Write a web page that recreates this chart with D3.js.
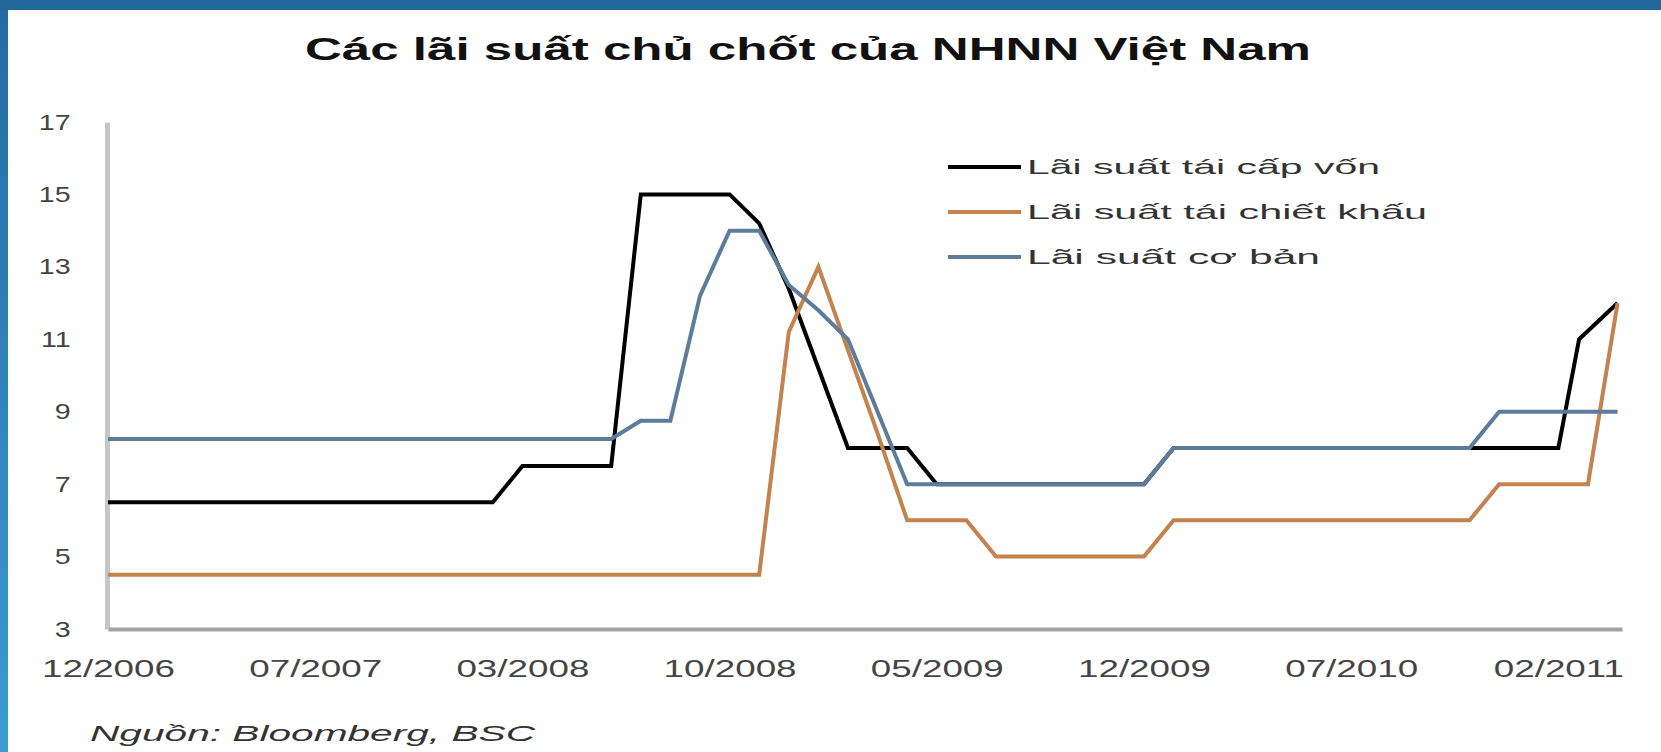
<!DOCTYPE html>
<html>
<head>
    <meta charset="utf-8">
    <title>Lãi suất NHNN</title>
    <script src="https://d3js.org/d3.v7.min.js"></script>
    <style>
        body { margin: 0; background: #fff; }
        text { font-family: "Liberation Sans", Arial, sans-serif; }
    </style>
</head>
<body>
<div id="chart"></div>

<script type="text/javascript">
    // dữ liệu: x là chỉ số thời điểm trên trục phân loại, y là lãi suất (%)
    let xLabels = ["12/2006", "07/2007", "03/2008", "10/2008", "05/2009", "12/2009", "07/2010", "02/2011"];
    let yTicks = [3, 5, 7, 9, 11, 13, 15, 17];
    let seriesNames = ["Lãi suất tái cấp vốn", "Lãi suất tái chiết khấu", "Lãi suất cơ bản"];
    let seriesColors = ["#000000", "#c4824f", "#5d7c9c"];

    let refinance = [[0,6.5],[13,6.5],[14,7.5],[17,7.5],[18,15],[21,15],[22,14.2],[23,12.4],[24,10.2],
                     [25,8],[27,8],[28,7],[35,7],[36,8],[49,8],[49.7,11],[51,12]];
    let discount = [[0,4.5],[22,4.5],[23,11.2],[24,13],[25,10.7],[26,8.4],[27,6],[29,6],[30,5],[35,5],
                    [36,6],[46,6],[47,7],[50,7],[51,12]];
    let baseRate = [[0,8.25],[17,8.25],[18,8.75],[19,8.75],[20,12.2],[21,14],[22,14],[23,12.5],[24,11.8],
                    [25,11],[27,7],[35,7],[36,8],[46,8],[47,9],[51,9]];

    let W = 1661, H = 752;

    let svg = d3.select("#chart")
            .append("svg")
                .attr("width", W)
                .attr("height", H);

    // khung xanh phía trên và bên trái
    let grad = svg.append("defs").append("linearGradient")
        .attr("id", "sideGrad")
        .attr("x1", 0).attr("y1", 0).attr("x2", 0).attr("y2", 1);
    grad.append("stop").attr("offset", "0%").attr("stop-color", "#256a9e");
    grad.append("stop").attr("offset", "100%").attr("stop-color", "#3c9bd0");

    svg.append("rect").attr("x", 0).attr("y", 0).attr("width", 8).attr("height", H)
        .attr("fill", "url(#sideGrad)");
    svg.append("rect").attr("x", 0).attr("y", 0).attr("width", W).attr("height", 10)
        .attr("fill", "#23689b");

    // thang đo
    let xScale = d3.scaleLinear()
                  .domain([0, 51.15])
                  .range([108, 1622]);
    let yScale = d3.scaleLinear()
                  .domain([3, 17])
                  .range([629, 122]);

    // tiêu đề
    svg.append("text")
        .attr("x", 305)
        .attr("y", 60)
        .attr("font-size", 32)
        .attr("font-weight", "bold")
        .attr("fill", "#111")
        .attr("textLength", 1006)
        .attr("lengthAdjust", "spacingAndGlyphs")
        .text("Các lãi suất chủ chốt của NHNN Việt Nam");

    // trục Y
    let yAxis = d3.axisLeft(yScale)
                  .tickValues(yTicks)
                  .tickSize(0)
                  .tickPadding(28)
                  .tickFormat(d3.format("d"));
    let yG = svg.append("g")
       .attr("transform", "translate(107,0)")
       .call(yAxis);
    yG.select(".domain").attr("stroke", "#c6c6c6").attr("stroke-width", 5);
    yG.selectAll("text")
       .attr("font-size", 22)
       .attr("fill", "#444")
       .attr("transform", "scale(1.3,1)");

    // trục X
    let xAxis = d3.axisBottom(xScale)
                  .tickValues(xLabels.map(function(d, i) { return i * 7; }))
                  .tickSize(0)
                  .tickPadding(32)
                  .tickFormat(function(d, i) { return xLabels[i]; });
    let xG = svg.append("g")
       .attr("transform", "translate(0," + yScale(3) + ")")
       .call(xAxis);
    xG.select(".domain").attr("stroke", "#a3a3a3").attr("stroke-width", 4);
    xG.selectAll("text")
       .attr("font-size", 23)
       .attr("fill", "#444")
       .attr("transform", "scale(1.6,1)");

    // các đường
    let line = d3.line()
        .x(function(d) { return xScale(d[0]); })
        .y(function(d) { return yScale(d[1]); });

    let allSeries = [refinance, discount, baseRate];
    svg.selectAll("path.series")
        .data(allSeries)
        .enter()
        .append("path")
        .attr("class", "series")
        .attr("d", line)
        .attr("fill", "none")
        .attr("stroke", function(d, i) { return seriesColors[i]; })
        .attr("stroke-width", 4)
        .attr("stroke-linejoin", "miter");

    // chú thích
    let legendWidths = [353, 400, 293];
    let legend = svg.selectAll("g.legend")
        .data(seriesNames)
        .enter()
        .append("g")
        .attr("class", "legend")
        .attr("transform", function(d, i) { return "translate(948," + (167 + i * 45) + ")"; });
    legend.append("line")
        .attr("x1", 0).attr("x2", 73)
        .attr("y1", 0).attr("y2", 0)
        .attr("stroke", function(d, i) { return seriesColors[i]; })
        .attr("stroke-width", 4);
    legend.append("text")
        .attr("x", 79)
        .attr("y", 7)
        .attr("font-size", 21)
        .attr("fill", "#333")
        .attr("textLength", function(d, i) { return legendWidths[i]; })
        .attr("lengthAdjust", "spacingAndGlyphs")
        .text(function(d) { return d; });

    // nguồn
    svg.append("text")
        .attr("x", 90)
        .attr("y", 741)
        .attr("font-size", 22)
        .attr("font-style", "italic")
        .attr("fill", "#333")
        .attr("textLength", 445)
        .attr("lengthAdjust", "spacingAndGlyphs")
        .text("Nguồn: Bloomberg, BSC");
</script>
</body>
</html>
